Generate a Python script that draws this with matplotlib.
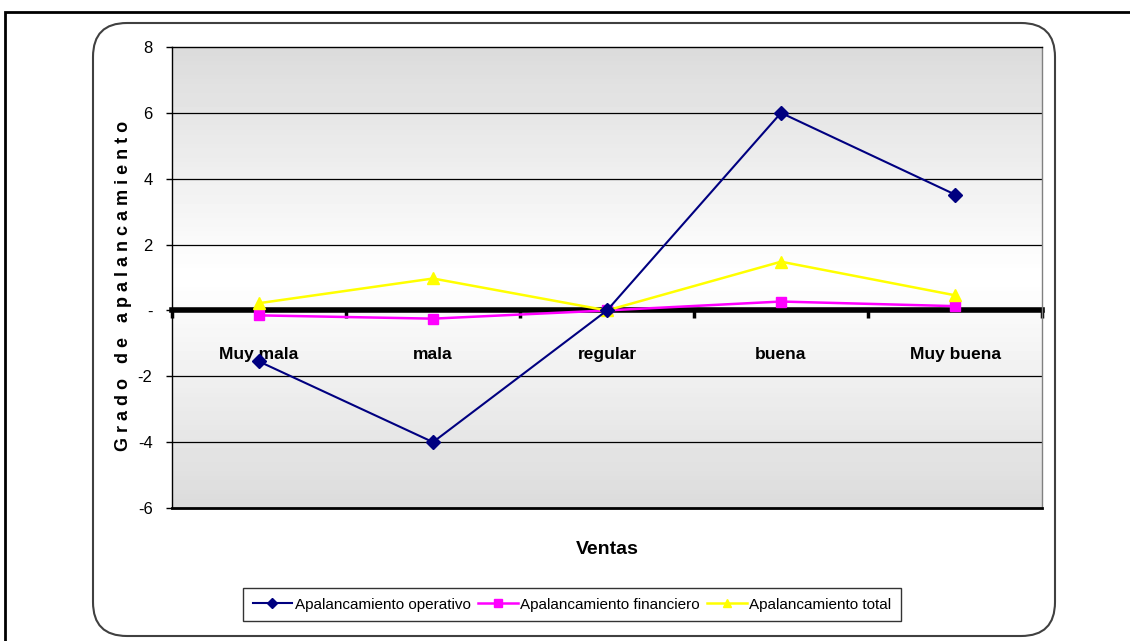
import matplotlib
matplotlib.use("Agg")
import matplotlib.pyplot as plt
import numpy as np
from matplotlib.patches import FancyBboxPatch, Rectangle
from matplotlib.ticker import FixedLocator, FixedFormatter

categories = ["Muy mala", "mala", "regular", "buena", "Muy buena"]
operativo = [-1.55, -4.0, 0.0, 6.0, 3.52]
financiero = [-0.15, -0.25, 0.0, 0.27, 0.13]
total = [0.22, 0.97, 0.0, 1.48, 0.46]
yticks = [-6, -4, -2, 0, 2, 4, 6, 8]
yticklabels = ["-6", "-4", "-2", "-", "2", "4", "6", "8"]

plt.rcParams['font.family'] = ['Liberation Sans', 'DejaVu Sans']
narrow = ['Liberation Sans Narrow', 'Liberation Sans', 'DejaVu Sans']

fig = plt.figure(figsize=(11.3, 6.41), dpi=100)
W, H = 1130, 641

def fx(px):
    return px / W

def fy(py):
    return 1 - py / H

# outer frame
fig.patches.append(Rectangle((fx(5), fy(660)), fx(1200), fy(12) - fy(660),
                             transform=fig.transFigure, fill=False,
                             edgecolor='black', lw=2.0))
# rounded chart area
fig.patches.append(FancyBboxPatch((fx(93), fy(636)), fx(1055) - fx(93), fy(23) - fy(636),
                                  boxstyle="round,pad=0,rounding_size=0.03",
                                  transform=fig.transFigure, fill=False,
                                  edgecolor='#404040', lw=1.5,
                                  mutation_aspect=W / H))

ax = fig.add_axes([fx(172), fy(508), fx(1042) - fx(172), fy(47) - fy(508)])
x = np.arange(len(categories))

# gradient background
grad = np.concatenate([np.linspace(0.86, 1.0, 50), np.linspace(1.0, 0.86, 50)])
grad = np.tile(grad[:, None], (1, 2))
ax.imshow(grad, cmap='gray', vmin=0, vmax=1, aspect='auto',
          extent=[-0.5, 4.5, -6, 8], origin='lower', zorder=0)

ax.set_xlim(-0.5, 4.5)
ax.set_ylim(-6, 8)

for yv in yticks:
    if yv not in (0, -6, 8):
        ax.axhline(yv, color='black', lw=0.9, zorder=1)

ax.plot(x, operativo, color='#000080', lw=1.5, marker='D', ms=7,
        label='Apalancamiento operativo', zorder=4)
ax.plot(x, financiero, color='#FF00FF', lw=1.8, marker='s', ms=7,
        label='Apalancamiento financiero', zorder=3)
ax.plot(x, total, color='#FFFF00', lw=1.8, marker='^', ms=8,
        label='Apalancamiento total', zorder=3)

# spines
for s in ['left', 'top', 'right']:
    ax.spines[s].set_color('black')
    ax.spines[s].set_linewidth(1.0)
ax.spines['right'].set_color('#808080')
ax.spines['bottom'].set_position(('data', 0))
ax.spines['bottom'].set_linewidth(4)
ax.spines['bottom'].set_zorder(2)
ax.axhline(-6, color='black', lw=2.0, zorder=5, clip_on=False)

ax.xaxis.set_major_locator(FixedLocator([-0.5, 0.5, 1.5, 2.5, 3.5, 4.5]))
ax.xaxis.set_major_formatter(FixedFormatter([""] * 6))
ax.tick_params(axis='x', which='major', direction='out', length=6, width=2.5, color='black')
ax.xaxis.set_minor_locator(FixedLocator(list(x)))
ax.xaxis.set_minor_formatter(FixedFormatter(categories))
ax.tick_params(axis='x', which='minor', length=0, pad=26)
for lab in ax.xaxis.get_minorticklabels():
    lab.set_fontfamily(narrow)
    lab.set_fontweight('bold')
    lab.set_fontsize(12.5)

ax.set_yticks(yticks)
ax.set_yticklabels(yticklabels, fontsize=12, fontfamily=narrow)
ax.tick_params(axis='y', direction='out', length=4, width=1, pad=10)

fig.text(fx(607), fy(550), "Ventas", ha='center', va='center',
         fontsize=14, fontweight='bold')
fig.text(fx(123), fy(286), "G r a d o   d e   a p a l a n c a m i e n t o",
         rotation=90, ha='center', va='center', fontsize=13, fontweight='bold')

leg = fig.legend(loc='center', bbox_to_anchor=(fx(572), fy(604.5)), ncol=3,
                 frameon=True, fancybox=False, edgecolor='black',
                 prop={'family': narrow, 'size': 11}, handlelength=2.6,
                 handletextpad=0.15, columnspacing=0.5, borderpad=0.6,
                 markerscale=0.8)
leg.get_frame().set_linewidth(1.0)

fig.savefig("out.png", dpi=100)
